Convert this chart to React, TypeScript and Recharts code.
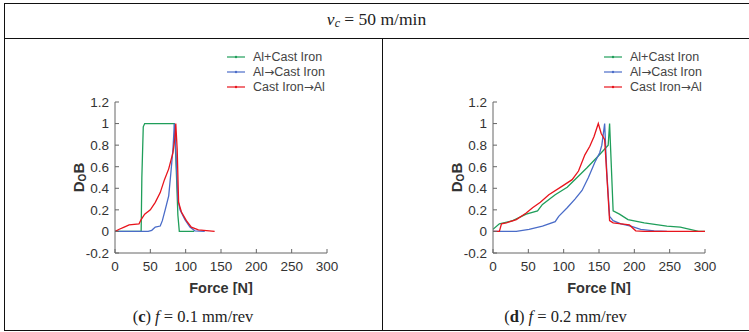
import React from 'react';
import { LineChart, Line, XAxis, YAxis } from 'recharts';

const GREEN = '#1f9e5a';
const BLUE = '#4a6cc8';
const RED = '#e8141c';

const SERIES_NAMES = ['Al+Cast Iron', 'Al\u2192Cast Iron', 'Cast Iron\u2192Al'];
const X_TICKS = [0, 50, 100, 150, 200, 250, 300];
const Y_TICKS = [-0.2, 0, 0.2, 0.4, 0.6, 0.8, 1, 1.2];

// (c) f = 0.1 mm/rev
const c_green = [
  { f: 0, v: 0 }, { f: 37, v: 0 }, { f: 38, v: 0.5 }, { f: 40, v: 0.97 }, { f: 42, v: 1 },
  { f: 84, v: 1 }, { f: 86, v: 0.7 }, { f: 89, v: 0.15 }, { f: 91, v: 0 }, { f: 112, v: 0 },
];
const c_blue = [
  { f: 0, v: 0 }, { f: 47, v: 0 }, { f: 52, v: 0.01 }, { f: 57, v: 0.04 }, { f: 64, v: 0.05 },
  { f: 67, v: 0.1 }, { f: 71, v: 0.2 }, { f: 76, v: 0.33 }, { f: 79, v: 0.54 }, { f: 82, v: 0.76 },
  { f: 84, v: 1 }, { f: 86, v: 0.76 }, { f: 89, v: 0.3 }, { f: 92, v: 0.2 }, { f: 99, v: 0.11 },
  { f: 106, v: 0.04 }, { f: 113, v: 0.006 }, { f: 127, v: 0 },
];
const c_red = [
  { f: 0, v: 0 }, { f: 6, v: 0.02 }, { f: 13, v: 0.04 }, { f: 20, v: 0.06 }, { f: 34, v: 0.07 },
  { f: 37, v: 0.11 }, { f: 42, v: 0.16 }, { f: 50, v: 0.2 }, { f: 57, v: 0.27 }, { f: 64, v: 0.36 },
  { f: 70, v: 0.48 }, { f: 76, v: 0.58 }, { f: 82, v: 0.73 }, { f: 85, v: 0.88 }, { f: 86, v: 1 },
  { f: 88, v: 0.76 }, { f: 90, v: 0.27 }, { f: 94, v: 0.18 }, { f: 101, v: 0.1 }, { f: 108, v: 0.04 },
  { f: 118, v: 0.015 }, { f: 141, v: 0 },
];

// (d) f = 0.2 mm/rev
const d_green = [
  { f: 0, v: 0.02 }, { f: 9, v: 0.07 }, { f: 28, v: 0.1 }, { f: 47, v: 0.16 }, { f: 63, v: 0.19 },
  { f: 70, v: 0.25 }, { f: 88, v: 0.34 }, { f: 105, v: 0.41 }, { f: 119, v: 0.5 }, { f: 133, v: 0.59 },
  { f: 149, v: 0.7 }, { f: 163, v: 0.8 }, { f: 165, v: 1 }, { f: 170, v: 0.19 }, { f: 179, v: 0.16 },
  { f: 191, v: 0.11 }, { f: 214, v: 0.08 }, { f: 246, v: 0.05 }, { f: 265, v: 0.04 }, { f: 291, v: 0 },
  { f: 300, v: 0 },
];
const d_blue = [
  { f: 0, v: 0 }, { f: 33, v: 0 }, { f: 51, v: 0.02 }, { f: 70, v: 0.05 }, { f: 88, v: 0.09 },
  { f: 93, v: 0.14 }, { f: 105, v: 0.22 }, { f: 116, v: 0.3 }, { f: 126, v: 0.38 }, { f: 135, v: 0.5 },
  { f: 144, v: 0.64 }, { f: 151, v: 0.73 }, { f: 154, v: 0.8 }, { f: 158, v: 1 }, { f: 161, v: 0.55 },
  { f: 165, v: 0.14 }, { f: 170, v: 0.1 }, { f: 181, v: 0.07 }, { f: 195, v: 0.05 }, { f: 209, v: 0.02 },
  { f: 228, v: 0.006 }, { f: 246, v: 0 },
];
const d_red = [
  { f: 0, v: 0 }, { f: 9, v: 0 }, { f: 12, v: 0.07 }, { f: 19, v: 0.08 }, { f: 33, v: 0.11 },
  { f: 47, v: 0.17 }, { f: 56, v: 0.22 }, { f: 67, v: 0.27 }, { f: 79, v: 0.34 }, { f: 98, v: 0.42 },
  { f: 112, v: 0.48 }, { f: 121, v: 0.56 }, { f: 130, v: 0.71 }, { f: 137, v: 0.79 }, { f: 143, v: 0.88 },
  { f: 149, v: 1 }, { f: 153, v: 0.91 }, { f: 158, v: 0.85 }, { f: 165, v: 0.1 }, { f: 170, v: 0.08 },
  { f: 193, v: 0.06 }, { f: 202, v: 0.006 }, { f: 214, v: 0 }, { f: 300, v: 0 },
];

const AXIS = '#666';
const FONT = '"Liberation Sans", Arial, sans-serif';
const SERIF = '"Liberation Serif", "DejaVu Serif", serif';

const YLabel = (props: any) => {
  const { viewBox } = props;
  const cx = viewBox.x + 38;
  const cy = viewBox.y + viewBox.height / 2;
  return (
    <text x={cx} y={cy} transform={`rotate(-90 ${cx} ${cy})`} textAnchor="middle"
      fontFamily={FONT} fontSize={15} fontWeight="bold" fill="#333" dominantBaseline="central">
      D<tspan fontSize={10} dy={4}>O</tspan><tspan dy={-4}>B</tspan>
    </text>
  );
};

function Panel({ series, left }: { series: { f: number; v: number }[][]; left: number }) {
  const colors = [GREEN, BLUE, RED];
  return (
    <div style={{ position: 'absolute', left, top: 40 }}>
      <LineChart width={300} height={255} margin={{ top: 62, right: 13, bottom: 0, left: 0 }}>
        <XAxis type="number" dataKey="f" domain={[0, 300]} ticks={X_TICKS} allowDataOverflow
          stroke={AXIS} tickSize={-4} tickMargin={12} height={42}
          tick={{ fill: '#333', fontSize: 13.5, fontFamily: FONT }}
          label={{ value: 'Force [N]', position: 'insideBottom', offset: 2, fill: '#333',
            fontSize: 14.5, fontWeight: 'bold', fontFamily: FONT }} />
        <XAxis xAxisId="top" orientation="top" type="number" dataKey="f" domain={[0, 300]}
          ticks={X_TICKS} mirror height={0} stroke={AXIS} tickSize={4} tick={false} />
        <YAxis type="number" domain={[-0.2, 1.2]} ticks={Y_TICKS} allowDataOverflow
          stroke={AXIS} tickSize={-4} tickMargin={10} width={75}
          tick={{ fill: '#333', fontSize: 13.5, fontFamily: FONT }}
          label={<YLabel />} />
        <YAxis yAxisId="right" orientation="right" type="number" domain={[-0.2, 1.2]}
          ticks={Y_TICKS} mirror width={0} stroke={AXIS} tickSize={4} tick={false} />
        {series.map((d, i) => (
          <Line key={i} data={d} dataKey="v" type="linear" stroke={colors[i]} strokeWidth={1.3}
            dot={false} isAnimationActive={false} name={SERIES_NAMES[i]} />
        ))}
      </LineChart>
    </div>
  );
}

function LegendBox({ left }: { left: number }) {
  const colors = [GREEN, BLUE, RED];
  return (
    <div style={{ position: 'absolute', left, top: 49, fontFamily: FONT, fontSize: 12.5, color: '#444' }}>
      {SERIES_NAMES.map((n, i) => (
        <div key={n} style={{ display: 'flex', alignItems: 'center', height: 15 }}>
          <svg width={22} height={6} style={{ marginRight: 4 }}>
            <line x1={0} y1={3} x2={18} y2={3} stroke={colors[i]} strokeWidth={1.2} />
            <circle cx={9} cy={3} r={1.2} fill={colors[i]} />
          </svg>
          <span>
            {n.split('\u2192').map((part, j) => (
              <React.Fragment key={j}>
                {j > 0 && <span style={{ fontFamily: '"DejaVu Sans", sans-serif', fontSize: 12 }}>{'\u2192'}</span>}
                {part}
              </React.Fragment>
            ))}
          </span>
        </div>
      ))}
    </div>
  );
}

const line = (s: React.CSSProperties): React.CSSProperties => ({ position: 'absolute', background: '#111', ...s });

export default function App() {
  return (
    <div style={{ position: 'absolute', left: 0, top: 0, width: 749, height: 332, background: '#fff', overflow: 'hidden' }}>
      <div style={line({ left: 4, top: 3, width: 745, height: 1 })} />
      <div style={line({ left: 4, top: 38, width: 745, height: 1 })} />
      <div style={line({ left: 4, top: 330, width: 745, height: 1 })} />
      <div style={line({ left: 4, top: 3, width: 1, height: 328 })} />
      <div style={line({ left: 382, top: 38, width: 1, height: 293 })} />
      <div style={{ position: 'absolute', left: 4, top: 9, width: 745, textAlign: 'center', fontFamily: SERIF, fontSize: 17.5, color: '#222' }}>
        <i>v<span style={{ fontSize: 12, position: 'relative', top: 2 }}>c</span></i> = 50 m/min
      </div>
      <Panel series={[c_green, c_blue, c_red]} left={40} />
      <Panel series={[d_green, d_blue, d_red]} left={418} />
      <LegendBox left={227} />
      <LegendBox left={604} />
      <div style={{ position: 'absolute', left: 4, top: 307, width: 378, textAlign: 'center', fontFamily: SERIF, fontSize: 16.5, color: '#222' }}>
        (<b>c</b>) <i>f</i> = 0.1 mm/rev
      </div>
      <div style={{ position: 'absolute', left: 382, top: 307, width: 367, textAlign: 'center', fontFamily: SERIF, fontSize: 16.5, color: '#222' }}>
        (<b>d</b>) <i>f</i> = 0.2 mm/rev
      </div>
    </div>
  );
}
